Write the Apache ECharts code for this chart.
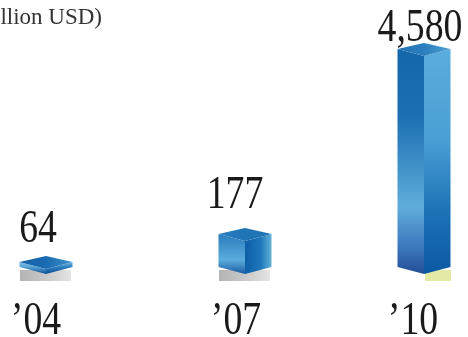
<!DOCTYPE html>
<html>
<head>
<meta charset="utf-8">
<style>html,body{margin:0;padding:0;background:#fff}#chart{width:468px;height:337px}</style>
<script src="https://cdn.jsdelivr.net/npm/echarts@6/dist/echarts.min.js"></script>
</head>
<body>
<div id="chart"></div>
<script>
// Yearly figures, million USD
const years = ['’04', '’07', '’10'];
const amounts = [64, 177, 4580];
const amountLabels = ['64', '177', '4,580'];
const unitLabel = '(Million USD)';

// Layout of each column, in page pixels
const gridCentres = [36, 236, 413];
const boxCentres = [46, 245, 424];
const labelCentres = [38, 235, 420];
const labelLifts = [19, 25, 7];
const gridWidth = 60, plotTop = 49, plotHeight = 218;
const halfWidth = 26.5, rise = 6, dip = 7;
const baselineDrop = 10;
const serif = '"Liberation Serif", "Times New Roman", serif';

const vGrad = (stops) => ({
  type: 'linear', x: 0, y: 0, x2: 0, y2: 1,
  colorStops: stops.map(([offset, color]) => ({ offset, color }))
});
const hGrad = (stops) => ({
  type: 'linear', x: 0, y: 0, x2: 1, y2: 0,
  colorStops: stops.map(([offset, color]) => ({ offset, color }))
});

const greyShadow = hGrad([[0, '#b4b4b4'], [0.5, '#c8c8c8'], [1, '#e4e4e4']]);
const boxLooks = [
  {
    left: vGrad([[0, '#7dbde2'], [0.4, '#5aa6d6'], [1, '#0c4f96']]),
    right: vGrad([[0, '#7dbde2'], [0.4, '#2f7fc0'], [1, '#0c4f96']]),
    top: hGrad([[0, '#145fa8'], [0.5, '#1a6bb0'], [1, '#3f93cc']]),
    shadow: [20, 71, greyShadow]
  },
  {
    left: vGrad([[0, '#2a7cbe'], [0.65, '#5aacdc'], [1, '#1c5aa4']]),
    right: hGrad([[0, '#0d5ea6'], [0.6, '#1f78bb'], [1, '#62b2d6']]),
    top: hGrad([[0, '#2a7cbe'], [0.5, '#1f74b6'], [1, '#1f74b6']]),
    shadow: [219, 270, greyShadow]
  },
  {
    left: vGrad([[0, '#1567ab'], [0.3, '#1b6fb2'], [0.7, '#5fadda'], [0.88, '#3d78bd'], [1, '#224e98']]),
    right: vGrad([[0, '#5aaddc'], [0.4, '#4a9fd4'], [0.7, '#1f74b8'], [1, '#0a59a2']]),
    top: hGrad([[0, '#1f72b4'], [0.5, '#2b7fbe'], [1, '#4e9fd2']]),
    shadow: [425, 451, '#e4eaa6']
  }
];

// One cuboid per year: shadow, two side faces, top face, then its value and year text
function drawBox(params, api) {
  const i = params.seriesIndex;
  const look = boxLooks[i];
  const topPoint = api.coord([api.value(0), api.value(1)]);
  const basePoint = api.coord([api.value(0), api.value(2)]);
  const c = topPoint[0] + boxCentres[i] - gridCentres[i];
  const l = c - halfWidth, r = c + halfWidth;
  const top = topPoint[1], base = basePoint[1];
  const poly = (points, fill) => ({ type: 'polygon', shape: { points }, style: { fill } });
  const text = (str, x, baseline) => ({
    type: 'text', x, y: baseline + baselineDrop, scaleX: 0.82,
    style: { text: str, x: 0, y: 0, align: 'center', verticalAlign: 'bottom', fill: '#1a1a1a', font: '46px ' + serif }
  });
  return {
    type: 'group',
    children: [
      {
        type: 'rect',
        shape: { x: look.shadow[0], y: base + 3, width: look.shadow[1] - look.shadow[0], height: 11 },
        style: { fill: look.shadow[2] }
      },
      poly([[l, top], [c, top + dip], [c, base + dip], [l, base]], look.left),
      poly([[c, top + dip], [r, top], [r, base], [c, base + dip]], look.right),
      poly([[l, top], [c, top - rise], [r, top], [c, top + dip]], look.top),
      text(amountLabels[i], labelCentres[i], top - labelLifts[i]),
      text(years[i], gridCentres[i], 335)
    ]
  };
}

const option = {
  animation: false,
  backgroundColor: '#ffffff',
  grid: years.map((_, i) => ({
    left: gridCentres[i] - gridWidth / 2, width: gridWidth, top: plotTop, height: plotHeight
  })),
  xAxis: years.map((y, i) => ({
    type: 'category', gridIndex: i, data: [y], show: false
  })),
  // Hidden amount axis; the long stretch between the small and large years is compressed
  yAxis: years.map((_, i) => ({
    type: 'value', gridIndex: i, show: false, min: 43.8, max: 4580,
    breaks: [{ start: 200, end: 4500, gap: 645 }],
    breakArea: { show: false }
  })),
  graphic: [{
    type: 'text', right: 366, top: 6,
    style: { text: unitLabel, font: '23px ' + serif, fill: '#333333' }
  }],
  series: years.map((y, i) => ({
    type: 'custom', xAxisIndex: i, yAxisIndex: i, clip: false,
    renderItem: drawBox,
    encode: { x: 0, y: 1 },
    data: [[0, amounts[i], 43.8]]
  }))
};

const chart = echarts.init(document.getElementById('chart'), null, { renderer: 'canvas' });
chart.setOption(option);
</script>
</body>
</html>
